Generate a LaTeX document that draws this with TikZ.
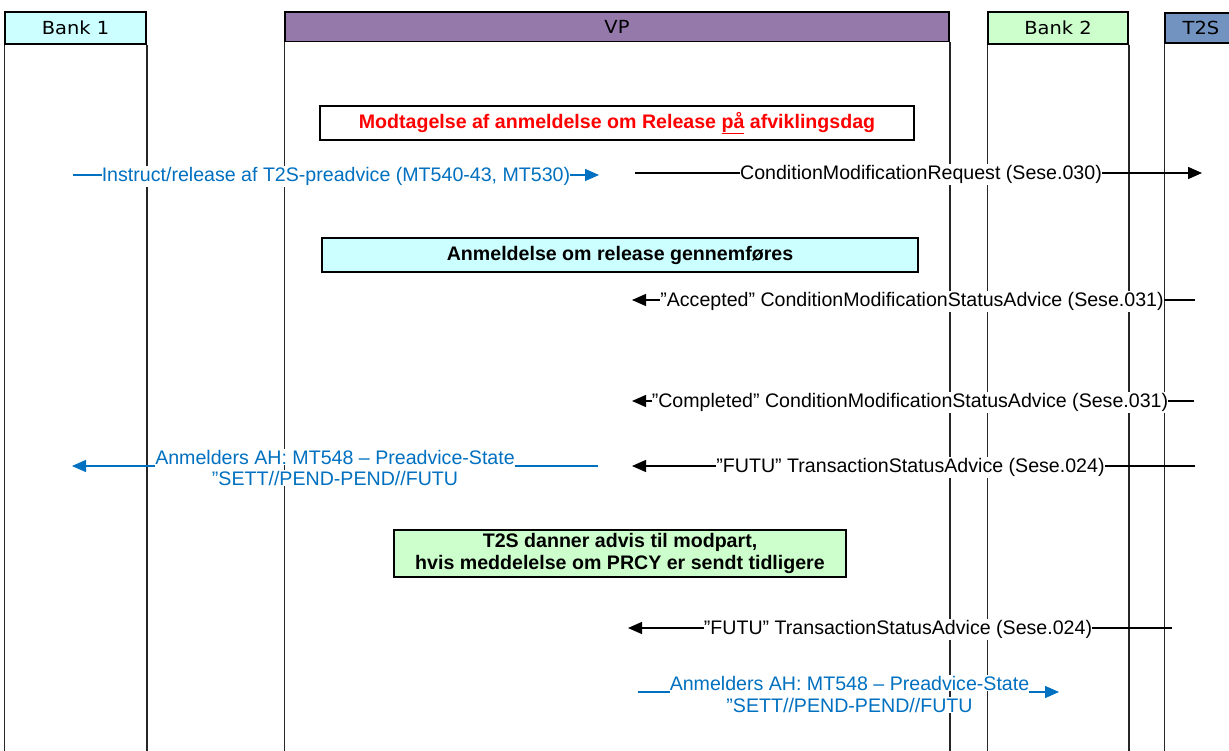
\documentclass[tikz,border=0pt]{standalone}
\usepackage{fontspec}
\setmainfont{Liberation Sans}
\newfontfamily\hdrfont[FakeStretch=1.08]{DejaVu Sans}
\usetikzlibrary{arrows.meta}
\definecolor{bluemsg}{RGB}{0,112,192}
\definecolor{cyanbox}{RGB}{204,255,255}
\definecolor{greenbox}{RGB}{204,255,204}
\definecolor{vpcol}{RGB}{149,121,171}
\definecolor{tscol}{RGB}{114,147,191}
\definecolor{redtxt}{RGB}{255,0,0}
\tikzset{
  hdr/.style={draw=black, line width=1.5pt, inner sep=0pt, font=\hdrfont\fontsize{18}{20}\selectfont},
  life/.style={line width=1.5pt, draw=black!85},
  msgline/.style={line width=1.4pt},
  msg/.style={line width=1.4pt, -{Triangle[length=14pt,width=12pt]}},
  lbl/.style={fill=white, inner xsep=0pt, inner ysep=1pt, anchor=base, font=\fontsize{19.6}{21.5}\selectfont},
  notebox/.style={draw=black, line width=1.5pt, align=center, inner sep=0pt, font=\bfseries\fontsize{19.6}{22}\selectfont},
}
\begin{document}
\begin{tikzpicture}[x=1pt,y=-1pt]
\useasboundingbox (0,0) rectangle (1229,751);
\clip (0,0) rectangle (1229,751);
\fill[white] (0,0) rectangle (1229,751);
\coordinate (bot) at (0,760);

% headers
\node[hdr, fill=cyanbox, minimum width=141pt, minimum height=32pt] (bank1) at (75.5,28) {Bank 1};
\node[hdr, fill=vpcol, minimum width=664pt, minimum height=29.5pt] (vp) at (617,26.75) {VP};
\node[hdr, fill=greenbox, minimum width=140pt, minimum height=32pt] (bank2) at (1058,28) {Bank 2};
\node[hdr, fill=tscol, minimum width=72pt, minimum height=30pt] (t2s) at (1201,28) {T2S};

% lifelines
\draw[life] (bank1.south west) -- (bank1.south west |- bot);
\draw[life] (bank1.south east) -- (bank1.south east |- bot);
\draw[life] (vp.south west) -- (vp.south west |- bot);
\draw[life] (vp.south east) -- (vp.south east |- bot);
\draw[life] (bank2.south west) -- (bank2.south west |- bot);
\draw[life] (bank2.south east) -- (bank2.south east |- bot);
\draw[life] (t2s.south west) -- (t2s.south west |- bot);

% note boxes
\node[notebox, fill=white, text=redtxt, minimum width=594pt, minimum height=34pt] (redbox) at (617,123)
  {Modtagelse af anmeldelse om Release \underline{på} afviklingsdag};
\node[notebox, fill=cyanbox, minimum width=596pt, minimum height=34pt] (cyannote) at (620,255)
  {Anmeldelse om release gennemføres};
\node[notebox, fill=greenbox, minimum width=452pt, minimum height=47pt] (greennote) at (620,553.5)
  {T2S danner advis til modpart,\\hvis meddelelse om PRCY er sendt tidligere};

% message 1: Instruct (blue)
\coordinate (m1s) at (73,175);
\coordinate (m1e) at (599,175);
\draw[msg, bluemsg] (m1s) -- (m1e);
\node[lbl, text=bluemsg] (m1l) at (336,181.5) {Instruct/release af T2S-preadvice (MT540-43, MT530)};

% message 2: CMR
\coordinate (m2s) at (635,173);
\coordinate (m2e) at (1202,173);
\draw[msg] (m2s) -- (m2e);
\node[lbl] (m2l) at (921,179.5) {ConditionModificationRequest (Sese.030)};

% message 3: Accepted
\coordinate (m3s) at (1195,300);
\coordinate (m3e) at (632,300);
\draw[msg] (m3s) -- (m3e);
\node[lbl] (m3l) at (912,306.5) {”Accepted” ConditionModificationStatusAdvice (Sese.031)};

% message 4: Completed
\coordinate (m4s) at (1194,401);
\coordinate (m4e) at (632,401);
\draw[msg] (m4s) -- (m4e);
\node[lbl] (m4l) at (910,407.5) {”Completed” ConditionModificationStatusAdvice (Sese.031)};

% message 5: FUTU 1
\coordinate (m5s) at (1195,466);
\coordinate (m5e) at (632,466);
\draw[msg] (m5s) -- (m5e);
\node[lbl] (m5l) at (910.5,472.5) {”FUTU” TransactionStatusAdvice (Sese.024)};

% message 6: blue AH 1
\coordinate (m6s) at (598,466);
\coordinate (m6e) at (72,466);
\node[lbl, text=bluemsg] (m6a) at (335,464) {Anmelders AH: MT548 – Preadvice-State};
\node[lbl, text=bluemsg] (m6b) at (335,485) {”SETT//PEND-PEND//FUTU};
\draw[msgline, bluemsg] (m6s) -- (m6a.east |- m6s);
\draw[msg, bluemsg] (m6a.west |- m6s) -- (m6e);

% message 7: FUTU 2
\coordinate (m7s) at (1172,628);
\coordinate (m7e) at (628,628);
\draw[msg] (m7s) -- (m7e);
\node[lbl] (m7l) at (898,634.5) {”FUTU” TransactionStatusAdvice (Sese.024)};

% message 8: blue AH 2
\coordinate (m8s) at (638,692);
\coordinate (m8e) at (1059,692);
\node[lbl, text=bluemsg] (m8a) at (849.5,690) {Anmelders AH: MT548 – Preadvice-State};
\node[lbl, text=bluemsg] (m8b) at (849.5,712) {”SETT//PEND-PEND//FUTU};
\draw[msgline, bluemsg] (m8s) -- (m8a.west |- m8s);
\draw[msg, bluemsg] (m8a.east |- m8s) -- (m8e);
\end{tikzpicture}
\end{document}
